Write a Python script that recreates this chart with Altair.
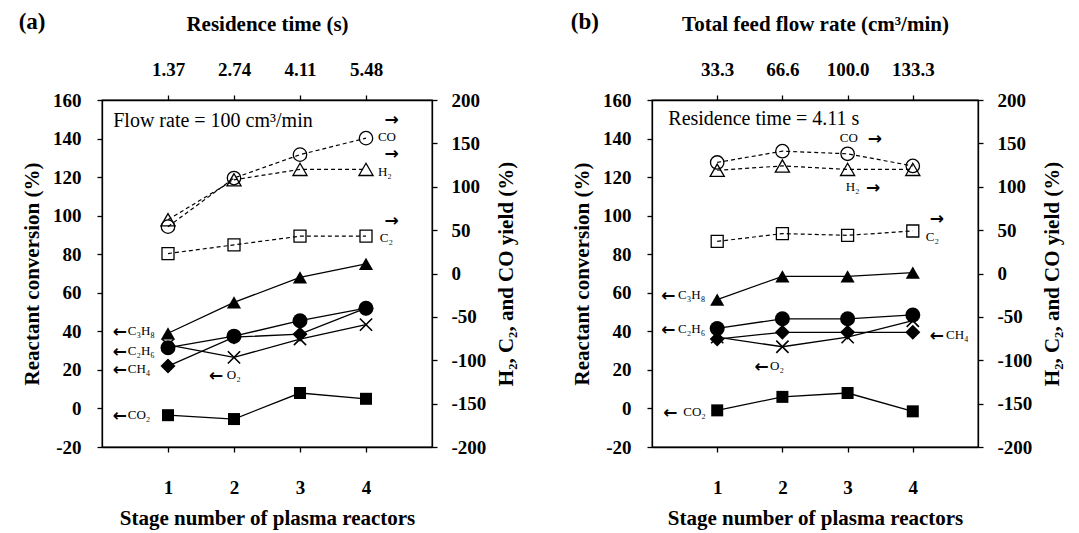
import altair as alt
import pandas as pd

SERIF = "Liberation Serif"
ARROW_FONT = "DejaVu Sans"

stages = [1, 2, 3, 4]

# ---- (a) fixed feed flow rate of 100 cm3/min ----
a_C3H8 = [39, 55, 68, 75]
a_C2H6 = [31.5, 37.5, 45.5, 52]
a_CH4 = [22, 37, 38.5, 52]
a_O2 = [33, 26.5, 36, 43.5]
a_CO2 = [-3.5, -5.5, 8, 5]
a_CO = [54, 110, 137, 156]
a_H2 = [62, 108, 120, 120]
a_C2 = [23, 33, 43, 43]
a_top_labels = ["1.37", "2.74", "4.11", "5.48"]

# ---- (b) fixed residence time of 4.11 s ----
b_C3H8 = [56.5, 68.5, 68.5, 70.5]
b_C2H6 = [41.5, 46.5, 46.5, 48.5]
b_CH4 = [36, 39.5, 39.5, 39.5]
b_O2 = [37, 32, 37, 45.5]
b_CO2 = [-1, 6, 8, -1.5]
b_CO = [128, 141, 138, 124]
b_H2 = [119, 124, 120, 120]
b_C2 = [37, 46, 44, 49]
b_top_labels = ["33.3", "66.6", "100.0", "133.3"]

# marker styles: (shape, size)
X_PATH = "M-1,-1L1,1M-1,1L1,-1"
conv_style = {
    "C3H8": ("triangle-up", 200),
    "C2H6": ("circle", 225),
    "CH4": ("diamond", 225),
    "CO2": ("square", 144),
}
yield_style = {
    "CO": ("circle", 180),
    "H2": ("triangle-up", 200),
    "C2": ("square", 144),
}


def to_long(series):
    rows = []
    for name, vals in series.items():
        for s, v in zip(stages, vals):
            rows.append({"species": name, "stage": s, "value": v})
    return pd.DataFrame(rows)


def top_expr(labels):
    expr = "''"
    for s, lab in reversed(list(zip(stages, labels))):
        expr = f"datum.value == {s} ? '{lab}' : ({expr})"
    return expr


def panel(conv, yld, top_labels, top_title, letter, note, labels, arrows, width):
    conv_df = to_long(conv)
    yld_df = to_long(yld)

    x_bottom = alt.X(
        "stage:Q",
        scale=alt.Scale(domain=[0, 5], nice=False, zero=False),
        axis=alt.Axis(
            orient="bottom", values=stages, format="d",
            title="Stage number  of plasma reactors",
            labelPadding=26, titlePadding=10,
        ),
    )
    x_top = alt.X(
        "stage:Q",
        scale=alt.Scale(domain=[0, 5], nice=False, zero=False),
        axis=alt.Axis(
            orient="top", values=stages, labelExpr=top_expr(top_labels),
            title=top_title, labelPadding=16, titlePadding=26,
        ),
    )
    y_left = alt.Y(
        "value:Q",
        scale=alt.Scale(domain=[-20, 160], nice=False, zero=False),
        axis=alt.Axis(
            values=list(range(-20, 161, 20)), labelExpr="'' + datum.value",
            title="Reactant conversion (%)", labelPadding=16, titlePadding=10,
        ),
    )
    y_right = alt.Y(
        "value:Q",
        scale=alt.Scale(domain=[-200, 200], nice=False, zero=False),
        axis=alt.Axis(
            orient="right", values=list(range(-200, 201, 50)),
            labelExpr="'' + datum.value",
            title="H\u2082, C\u2082, and CO yield (%)", titleAngle=270,
            titleBaseline="top",
            labelPadding=14, titlePadding=10,
        ),
    )

    # conversion (left axis): solid lines with filled markers
    conv_layers = [
        alt.Chart(conv_df).mark_line(color="black", strokeWidth=1.3).encode(
            x=x_bottom, y=y_left, detail="species:N"
        )
    ]
    for name, (shape, size) in conv_style.items():
        conv_layers.append(
            alt.Chart(conv_df[conv_df.species == name]).mark_point(
                shape=shape, size=size, filled=True, color="black", opacity=1
            ).encode(x=x_bottom, y=y_left)
        )
    conv_layers.append(
        alt.Chart(conv_df[conv_df.species == "O2"]).mark_point(
            shape=X_PATH, size=150, filled=False, color="black",
            strokeWidth=1.6, opacity=1
        ).encode(x=x_bottom, y=y_left)
    )

    note_df = pd.DataFrame([note])
    conv_layers.append(
        alt.Chart(note_df).mark_text(
            font=SERIF, fontSize=20, align="left", baseline="alphabetic",
            color="black"
        ).encode(x=x_bottom, y=y_left, text="text:N")
    )
    letter_df = pd.DataFrame([letter])
    conv_layers.append(
        alt.Chart(letter_df).mark_text(
            font=SERIF, fontSize=23, fontWeight="bold", align="center",
            baseline="middle", color="black"
        ).encode(x=x_bottom, y=y_left, text="text:N")
    )
    conv_layers.append(
        alt.Chart(pd.DataFrame(labels)).mark_text(
            font=SERIF, fontSize=13, align="left", baseline="middle",
            color="black"
        ).encode(x=x_bottom, y=y_left, text="text:N")
    )
    conv_layers.append(
        alt.Chart(pd.DataFrame(arrows)).mark_text(
            font=ARROW_FONT, fontSize=17, fontWeight="bold", align="center",
            baseline="middle", dy=1, color="black"
        ).encode(x=x_bottom, y=y_left, text="text:N")
    )

    # yields (right axis): dashed lines with open markers
    yld_layers = [
        alt.Chart(yld_df).mark_line(
            color="black", strokeWidth=1.2, strokeDash=[4, 3]
        ).encode(x=x_top, y=y_right, detail="species:N")
    ]
    for name, (shape, size) in yield_style.items():
        yld_layers.append(
            alt.Chart(yld_df[yld_df.species == name]).mark_point(
                shape=shape, size=size, filled=False, color="black",
                strokeWidth=1.3, opacity=1
            ).encode(x=x_top, y=y_right)
        )

    return alt.layer(
        alt.layer(*conv_layers), alt.layer(*yld_layers)
    ).resolve_scale(x="independent", y="independent").properties(
        width=width, height=347
    )


LEFT, RIGHT = "\u2190", "\u2192"

panel_a = panel(
    {"C3H8": a_C3H8, "C2H6": a_C2H6, "CH4": a_CH4, "O2": a_O2, "CO2": a_CO2},
    {"CO": a_CO, "H2": a_H2, "C2": a_C2},
    a_top_labels, "Residence time (s)",
    {"stage": -1.06, "value": 200.5, "text": "(a)"},
    {"stage": 0.17, "value": 146, "text": "Flow rate = 100 cm\u00b3/min"},
    [
        {"stage": 4.18, "value": 140.8, "text": "CO"},
        {"stage": 4.18, "value": 122.7, "text": "H\u2082"},
        {"stage": 4.21, "value": 88.4, "text": "C\u2082"},
        {"stage": 0.39, "value": 40.0, "text": "C\u2083H\u2088"},
        {"stage": 0.39, "value": 29.8, "text": "C\u2082H\u2086"},
        {"stage": 0.39, "value": 20.3, "text": "CH\u2084"},
        {"stage": 1.89, "value": 17.4, "text": "O\u2082"},
        {"stage": 0.39, "value": -3.4, "text": "CO\u2082"},
    ],
    [
        {"stage": 4.39, "value": 150.0, "text": RIGHT},
        {"stage": 4.39, "value": 132.5, "text": RIGHT},
        {"stage": 4.39, "value": 97.5, "text": RIGHT},
        {"stage": 0.27, "value": 40.0, "text": LEFT},
        {"stage": 0.27, "value": 29.8, "text": LEFT},
        {"stage": 0.27, "value": 20.3, "text": LEFT},
        {"stage": 1.73, "value": 17.4, "text": LEFT},
        {"stage": 0.27, "value": -3.4, "text": LEFT},
    ],
    330,
)

panel_b = panel(
    {"C3H8": b_C3H8, "C2H6": b_C2H6, "CH4": b_CH4, "O2": b_O2, "CO2": b_CO2},
    {"CO": b_CO, "H2": b_H2, "C2": b_C2},
    b_top_labels, "Total feed flow rate (cm\u00b3/min)",
    {"stage": -1.03, "value": 200.5, "text": "(b)"},
    {"stage": 0.25, "value": 147, "text": "Residence time  = 4.11 s"},
    [
        {"stage": 2.88, "value": 140.3, "text": "CO"},
        {"stage": 2.97, "value": 114.9, "text": "H\u2082"},
        {"stage": 4.20, "value": 88.9, "text": "C\u2082"},
        {"stage": 0.40, "value": 58.9, "text": "C\u2083H\u2088"},
        {"stage": 0.40, "value": 41.2, "text": "C\u2082H\u2086"},
        {"stage": 4.51, "value": 38.1, "text": "CH\u2084"},
        {"stage": 1.81, "value": 22.0, "text": "O\u2082"},
        {"stage": 0.48, "value": -1.8, "text": "CO\u2082"},
    ],
    [
        {"stage": 3.42, "value": 140.3, "text": RIGHT},
        {"stage": 3.39, "value": 114.9, "text": RIGHT},
        {"stage": 4.37, "value": 99.0, "text": RIGHT},
        {"stage": 0.25, "value": 58.9, "text": LEFT},
        {"stage": 0.25, "value": 41.2, "text": LEFT},
        {"stage": 4.37, "value": 38.1, "text": LEFT},
        {"stage": 1.68, "value": 22.0, "text": LEFT},
        {"stage": 0.28, "value": -1.8, "text": LEFT},
    ],
    326,
)

chart = alt.hconcat(panel_a, panel_b, spacing=52).properties(
    padding={"left": 17, "top": 10, "right": 5, "bottom": 5},
    background="white",
).configure_view(
    stroke="black", strokeWidth=1.3
).configure_axis(
    labelFont=SERIF, titleFont=SERIF,
    labelFontSize=19, titleFontSize=21,
    labelFontWeight="bold", titleFontWeight="bold",
    labelColor="black", titleColor="black",
    domainColor="black", tickColor="black",
    domainWidth=1.3, tickWidth=1.3, tickSize=5,
    grid=False,
)

chart.save("out.html", embed_options={"renderer": "svg", "actions": False})
